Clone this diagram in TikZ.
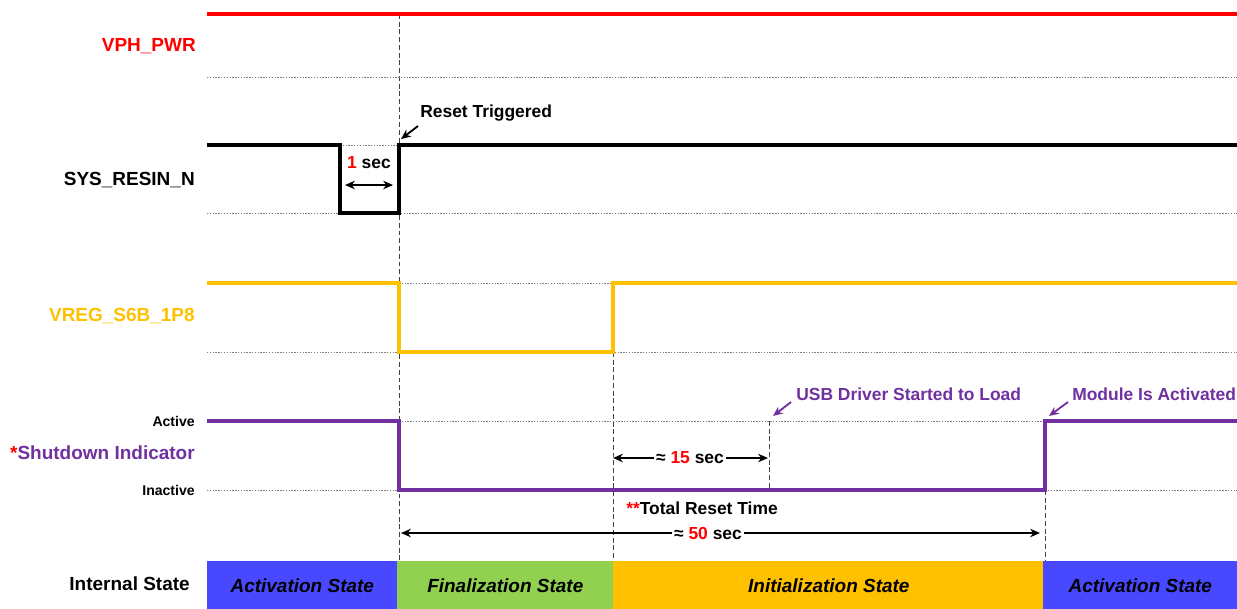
\documentclass[tikz,border=0pt]{standalone}
\usepackage{fontspec}
\setmainfont{Liberation Sans}
\usetikzlibrary{positioning, arrows.meta}
\definecolor{vphred}{HTML}{FF0000}
\definecolor{vregamber}{HTML}{FFC000}
\definecolor{sdpurple}{HTML}{7030A0}
\definecolor{actblue}{HTML}{4848FF}
\definecolor{fingreen}{HTML}{92D050}
\definecolor{gridgray}{HTML}{7F7F7F}

\begin{document}
\begin{tikzpicture}[
  x=0.025cm, y=-0.025cm,
  siglabel/.style={anchor=east, inner sep=0pt,
    font=\fontsize{13.5pt}{16pt}\selectfont\bfseries},
  levlabel/.style={anchor=east, inner sep=0pt,
    font=\fontsize{10pt}{12pt}\selectfont\bfseries},
  note/.style={inner sep=0pt,
    font=\fontsize{12.4pt}{14pt}\selectfont\bfseries},
  statebox/.style n args={1}{
    rectangle, fill=#1, anchor=north west, inner sep=0pt,
    minimum height=1.2cm,
    font=\fontsize{13.5pt}{16pt}\selectfont\bfseries\itshape
  },
  wave/.style={line width=2.2pt, line join=miter},
  refline/.style={gridgray, line width=0.6pt, dash pattern=on 1pt off 1pt},
  markline/.style={black!75, line width=0.6pt, dash pattern=on 3.5pt off 2pt},
  ptr/.style={line width=1.3pt, -{Stealth[length=7pt, width=6pt]}},
  span/.style={line width=1.3pt, {Stealth[length=7pt, width=6pt]}-{Stealth[length=7pt, width=6pt]}}
]
\useasboundingbox (0,0) rectangle (1237,608);

%% Event x-positions (px)
\def\xL{207}
\def\xA{399}
\def\xB{613}
\def\xC{769}
\def\xD{1045}
\def\xR{1237}

%% === EVENT MARKERS ===
\draw[markline] (\xA,14) -- (\xA,561);
\draw[markline] (\xB,352) -- (\xB,561);
\draw[markline] (\xC,421) -- (\xC,490);
\draw[markline] (\xD,490) -- (\xD,561);

%% === VPH_PWR ===
\node[siglabel, text=vphred] (lvph) at (196,46) {VPH\_PWR};
\draw[refline] (\xL,77) -- (\xR,77);
\draw[wave, vphred] (\xL,14) -- (\xR,14);

%% === SYS_RESIN_N ===
\node[siglabel] (lres) at (195,180) {SYS\_RESIN\_N};
\draw[refline] (\xL,213) -- (\xR,213);
\draw[refline] (340,145) -- (\xA,145);
\draw[wave] (\xL,145) -- (340,145) -- (340,213) -- (\xA,213) -- (\xA,145) -- (\xR,145);

\node[note] (onesec) at (369,163) {\textcolor{vphred}{1} sec};
\coordinate (onel) at (345,185);
\coordinate (oner) at (393,185);
\draw[span] (onel) -- (oner);

\node[note, anchor=west] (trig) at (420,113) {Reset Triggered};
\coordinate (trigtail) at (418,126);
\coordinate (trigpt) at (401,139);
\draw[ptr] (trigtail) -- (trigpt);

%% === VREG_S6B_1P8 ===
\node[siglabel, text=vregamber] (lvreg) at (195,316) {VREG\_S6B\_1P8};
\draw[refline] (\xA,283) -- (\xB,283);
\draw[refline] (\xL,352) -- (\xR,352);
\draw[wave, vregamber] (\xL,283) -- (\xA,283) -- (\xA,352) -- (\xB,352) -- (\xB,283) -- (\xR,283);

%% === SHUTDOWN INDICATOR ===
\node[levlabel] (lact) at (195,421) {Active};
\node[levlabel] (linact) at (195,490) {Inactive};
\node[siglabel, text=sdpurple] (lsd) at (195,453) {\textcolor{vphred}{*}Shutdown Indicator};
\draw[refline] (\xA,421) -- (\xD,421);
\draw[refline] (\xL,490) -- (\xR,490);
\draw[wave, sdpurple] (\xL,421) -- (\xA,421) -- (\xA,490) -- (\xD,490) -- (\xD,421) -- (\xR,421);

\node[note, anchor=west, text=sdpurple] (usb) at (796,394) {USB Driver Started to Load};
\coordinate (usbtail) at (791,402);
\coordinate (usbpt) at (773,416);
\draw[ptr, sdpurple] (usbtail) -- (usbpt);

\node[note, anchor=west, text=sdpurple] (modact) at (1072,394) {Module Is Activated};
\coordinate (modtail) at (1068,402);
\coordinate (modpt) at (1049,416);
\draw[ptr, sdpurple] (modtail) -- (modpt);

%% === TIMING SPANS ===
\node[note] (t15) at (690,458) {≈ \textcolor{vphred}{15} sec};
\coordinate (t15l) at (\xB,458);
\coordinate (t15r) at (768,458);
\draw[ptr] (t15.west) ++(-2,0) -- (t15l);
\draw[ptr] (t15.east) ++(2,0) -- (t15r);

\node[note, anchor=west] (total) at (626,508) {\textcolor{vphred}{**}Total Reset Time};
\node[note] (t50) at (708,533) {≈ \textcolor{vphred}{50} sec};
\coordinate (t50l) at (401,533);
\coordinate (t50r) at (1040,533);
\draw[ptr] (t50.west) ++(-2,0) -- (t50l);
\draw[ptr] (t50.east) ++(2,0) -- (t50r);

%% === INTERNAL STATE BAR ===
\node[siglabel] (lstate) at (190,584) {Internal State};
\node[statebox={actblue}, minimum width=4.75cm] (st1) at (\xL,561) {Activation State};
\node[statebox={fingreen}, minimum width=5.4cm] (st2) at (397,561) {Finalization State};
\node[statebox={vregamber}, minimum width=10.775cm] (st3) at (\xB,561) {Initialization State};
\node[statebox={actblue}, minimum width=4.85cm] (st4) at (1043,561) {Activation State};

\end{tikzpicture}
\end{document}
